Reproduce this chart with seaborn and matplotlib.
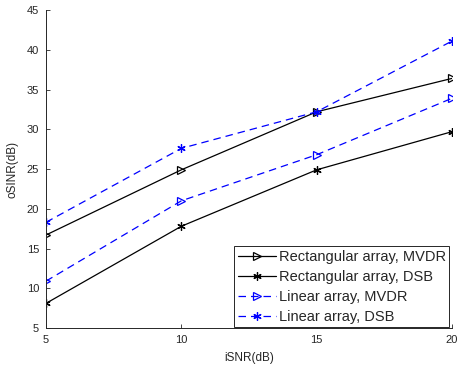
import pandas as pd
import matplotlib
matplotlib.use('Agg')
import matplotlib.pyplot as plt
import seaborn as sns

# iSNR values (dB)
isnr = [5, 10, 15, 20]
# oSINR values (dB)
rect_mvdr = [16.7, 24.9, 32.2, 36.4]
rect_dsb = [8.1, 17.8, 24.9, 29.7]
lin_mvdr = [10.9, 21.0, 26.8, 33.9]
lin_dsb = [18.3, 27.6, 32.2, 41.1]

labels = ['Rectangular array, MVDR', 'Rectangular array, DSB',
          'Linear array, MVDR', 'Linear array, DSB']


def main():
    sns.set_style('ticks')
    plt.rcParams['font.family'] = ['Liberation Sans', 'DejaVu Sans']

    fig = plt.figure(figsize=(4.58, 3.73), dpi=100)
    ax = fig.add_axes([0.1004, 0.1206, 0.8866, 0.8525])

    asterisk = (6, 2, 0)
    dashed = (0, (6, 4))
    series = [
        (rect_mvdr, 'black', '-', '>'),
        (rect_dsb, 'black', '-', asterisk),
        (lin_mvdr, 'blue', dashed, '>'),
        (lin_dsb, 'blue', dashed, asterisk),
    ]
    for (vals, col, ls, mk), lab in zip(series, labels):
        df = pd.DataFrame({'iSNR': isnr, 'oSINR': vals})
        face = 'none' if mk == '>' else col
        sns.lineplot(data=df, x='iSNR', y='oSINR', ax=ax, color=col,
                     linestyle=ls, linewidth=0.9, marker=mk, markersize=6,
                     markerfacecolor=face, markeredgecolor=col,
                     markeredgewidth=0.9, label=lab)

    ax.set_xlim(5, 20)
    ax.set_ylim(5, 45)
    ax.set_xticks([5, 10, 15, 20])
    ax.set_yticks(range(5, 46, 5))
    ax.set_xlabel('iSNR(dB)', fontsize=8.5, color='#262626', labelpad=5)
    ax.set_ylabel('oSINR(dB)', fontsize=8.5, color='#262626', labelpad=6)
    ax.tick_params(direction='in', length=3, width=0.6, labelsize=8,
                   colors='#262626', pad=5)
    for s in ['top', 'right']:
        ax.spines[s].set_visible(False)
    for s in ['left', 'bottom']:
        ax.spines[s].set_color('#262626')
        ax.spines[s].set_linewidth(0.7)

    leg = ax.legend(loc='lower right', fontsize=10.5, fancybox=False,
                    edgecolor='#262626', framealpha=1, borderaxespad=0.05,
                    bbox_to_anchor=(0.995, 0.0),
                    handlelength=2.6, handletextpad=0.2, labelspacing=0.4,
                    borderpad=0.25)
    leg.get_frame().set_linewidth(0.7)

    fig.savefig('out.png', dpi=100)


if __name__ == '__main__':
    main()
